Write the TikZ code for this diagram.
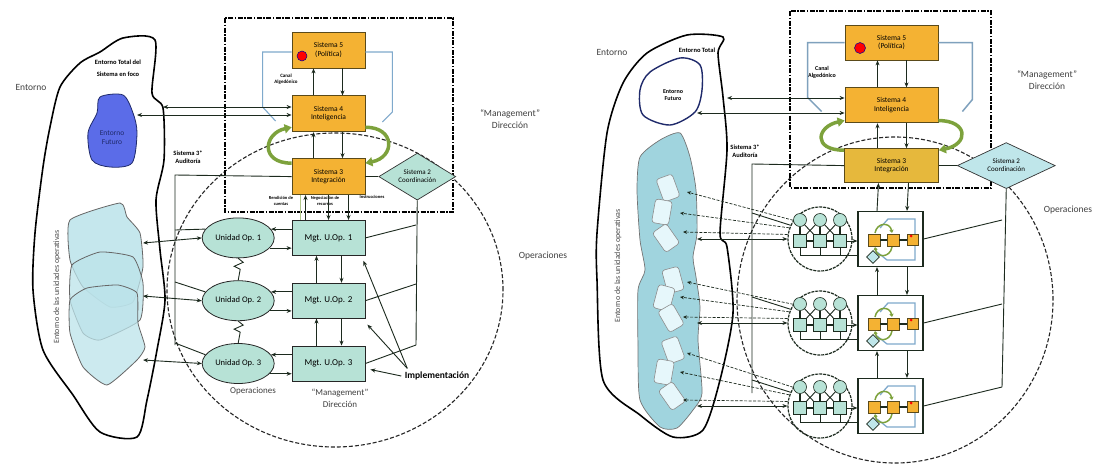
\documentclass[tikz,border=0pt]{standalone}
\usepackage{fontspec}
\setmainfont{Carlito}
\usetikzlibrary{arrows.meta,positioning,shapes.geometric,calc}
\definecolor{SysOrange}{HTML}{F4B233}
\definecolor{SysOrangeDim}{HTML}{E6B83C}
\definecolor{BoxEdge}{HTML}{5A4A1A}
\definecolor{MintFill}{HTML}{B7E2D6}
\definecolor{CoordFill}{HTML}{BFE6EA}
\definecolor{FutureBlue}{HTML}{5B6CE8}
\definecolor{FutureEdge}{HTML}{1F2A6B}
\definecolor{EnvBlue}{HTML}{BCE3EA}
\definecolor{EnvBlueDeep}{HTML}{A0D4DE}
\definecolor{EnvPale}{HTML}{E6F7FB}
\definecolor{AlgBlue}{HTML}{7FA9CC}
\definecolor{CycGreen}{HTML}{7DA23C}
\definecolor{LineDark}{HTML}{1C2A1E}

\begin{document}
\begin{tikzpicture}[x=1pt,y=-1pt,
node distance=27pt and 17pt,
sysbox/.style={draw=BoxEdge,fill=SysOrange,line width=0.8pt,align=center,minimum width=73pt,minimum height=36pt,inner sep=1pt,font=\fontsize{7.5}{8.5}\selectfont},
mgtbox/.style={draw=black!85,fill=MintFill,line width=0.8pt,minimum width=73pt,minimum height=35pt,font=\fontsize{9}{10}\selectfont},
opunit/.style={ellipse,draw=black!85,fill=MintFill,line width=0.8pt,minimum width=72pt,minimum height=40pt,inner sep=0pt,font=\fontsize{8.5}{9}\selectfont},
coordbox/.style={diamond,aspect=1.65,draw=black!80,fill=MintFill,line width=0.7pt,inner sep=0pt,minimum width=77pt,minimum height=47pt,align=center,font=\fontsize{7}{8}\selectfont},
boldlbl/.style={font=\bfseries\fontsize{6}{7}\selectfont,align=center},
tinylbl/.style={font=\bfseries\fontsize{4.5}{5.5}\selectfont,align=center},
plainlbl/.style={font=\fontsize{9.5}{12}\selectfont,align=center,text=black!75},
arr/.style={-{Stealth[length=5pt,width=4pt]},line width=0.9pt,LineDark},
dblarr/.style={{Stealth[length=5pt,width=4pt]}-{Stealth[length=5pt,width=4pt]},line width=0.9pt,LineDark},
dasharr/.style={-{Stealth[length=4pt,width=3.5pt]},line width=0.7pt,LineDark,dash pattern=on 3pt off 1.5pt},
link/.style={line width=0.9pt,LineDark},
minilink/.style={line width=1.6pt,LineDark},
algline/.style={line width=1.1pt,AlgBlue},
cyc/.style={-{Triangle[length=7pt,width=9pt]},line width=3.5pt,CycGreen},
minicyc/.style={-{Triangle[length=3pt,width=4pt]},line width=1.5pt,CycGreen},
envline/.style={line width=1.6pt,black,line join=round},
mgmtframe/.style={line width=1.2pt,black,dash pattern=on 5pt off 1.5pt on 1.5pt off 1.5pt},
opring/.style={line width=1.1pt,black!85,dash pattern=on 4pt off 2pt},
unitring/.style={circle,draw=LineDark,line width=1.2pt,dash pattern=on 3pt off 1pt,minimum size=64pt,inner sep=0pt},
minicirc/.style={circle,draw=LineDark,fill=MintFill,line width=0.6pt,minimum size=13pt,inner sep=0pt},
minisq/.style={draw=LineDark,fill=MintFill,line width=0.6pt,minimum size=13pt,inner sep=0pt},
minisys/.style={draw=BoxEdge,fill=SysOrange,line width=0.6pt,minimum size=12pt,inner sep=0pt},
minicoord/.style={diamond,draw=LineDark,fill=CoordFill,line width=0.6pt,minimum size=13pt,inner sep=0pt},
unitframe/.style={draw=LineDark,fill=white,line width=1.1pt,minimum width=65pt,minimum height=55pt},
piece/.style={draw=black!45,fill=EnvPale,rounded corners=3pt,line width=0.6pt,minimum width=17pt,minimum height=24pt},
reddot/.style={circle,fill=red,draw=blue!60!black,line width=0.5pt,minimum size=10pt,inner sep=0pt}
]
\fill[white] (0,0) rectangle (1099,466);
\useasboundingbox (0,0) rectangle (1099,466);

% ---------- left model ----------
\draw[envline] plot[smooth cycle,tension=0.45] coordinates {(123,38) (155,40) (152,93) (163,108) (164,160) (156,200) (160,250) (165,300) (157,350) (147,400) (137,437) (100,432) (73,395) (43,350) (33,290) (35,233) (43,167) (50,127) (60,87) (80,63) (100,52)};
\draw[FutureEdge,fill=FutureBlue,line width=0.8pt] plot[smooth cycle,tension=0.5] coordinates {(100,97) (123,95) (133,113) (137,133) (132,163) (110,167) (92,160) (88,133) (97,113)};
\draw[black!60,fill=EnvBlue,fill opacity=0.85,line width=0.8pt] plot[smooth cycle,tension=0.3] coordinates {(70,220) (120,203) (127,217) (140,233) (143,267) (133,302) (110,307) (83,287) (70,260)};
\draw[black!60,fill=EnvBlue,fill opacity=0.75,line width=0.8pt] plot[smooth cycle,tension=0.3] coordinates {(72,265) (100,252) (133,257) (143,283) (140,320) (100,340) (83,333) (70,300)};
\draw[black!60,fill=EnvBlue,fill opacity=0.75,line width=0.8pt] plot[smooth cycle,tension=0.3] coordinates {(70,300) (87,288) (118,285) (137,293) (138,323) (145,347) (137,360) (107,385) (83,367) (70,333)};
\draw[opring] (335,290) ellipse [x radius=168pt,y radius=157pt];
\draw[mgmtframe] (225,18) rectangle (453,212);

\node[plainlbl] (env1) at (31,87) {Entorno};
\node[boldlbl,font=\bfseries\fontsize{6.5}{12}\selectfont] (tot1) at (118,68) {Entorno Total del\\Sistema en foco};
\node[font=\fontsize{7.5}{9}\selectfont,align=center,text=FutureEdge] (fut1) at (112,138) {Entorno\\Futuro};
\node[font=\fontsize{8}{9}\selectfont,text=black!70,rotate=90] (uo1) at (57,287) {Entorno de las unidades operativas};

\node[sysbox] (s5) at (328.5,50) {Sistema 5\\(Política)};
\node[sysbox,below=of s5] (s4) {Sistema 4\\Inteligencia};
\node[sysbox,below=26pt of s4] (s3) {Sistema 3\\Integración};
\node[coordbox,right=13pt of s3] (s2) {Sistema 2\\Coordinación};
\node[reddot] (pd1) at (302,56) {};
\node[mgtbox,below=25pt of s3] (mg1) {Mgt. U.Op. 1};
\node[mgtbox,below=of mg1] (mg2) {Mgt. U.Op. 2};
\node[mgtbox,below=of mg2] (mg3) {Mgt. U.Op. 3};
\node[opunit,left=of mg1] (op1) {Unidad Op. 1};
\node[opunit,left=of mg2] (op2) {Unidad Op. 2};
\node[opunit,left=of mg3] (op3) {Unidad Op. 3};

\node[tinylbl,font=\bfseries\fontsize{5}{6.5}\selectfont] (alg1) at (286,79) {Canal\\Algedónico};
\node[boldlbl,font=\bfseries\fontsize{6.5}{8}\selectfont] (aud1) at (188,157) {Sistema 3*\\Auditoría};
\node[tinylbl] (rc1) at (281,201) {Rendición de\\cuentas};
\node[tinylbl] (nr1) at (325,201) {Negociación de\\recursos};
\node[tinylbl] (in1) at (372,197) {Instrucciones};
\node[plainlbl] (mgd1) at (510,119) {“Management”\\Dirección};
\node[plainlbl] (ops1) at (543,256) {Operaciones};
\node[plainlbl,font=\fontsize{9}{12}\selectfont] (ops1b) at (253,391) {Operaciones};
\node[plainlbl,font=\fontsize{9}{12}\selectfont] (mgd1b) at (340,398) {“Management”\\Dirección};
\node[font=\bfseries\fontsize{9.5}{10}\selectfont] (impl) at (437,376) {Implementación};

% channels of system 5 to 3
\draw[algline] ([yshift=-2pt]s5.west) -- ++(-29,0) -- ++(0,55) -- ++(13,14);
\draw[algline] ([yshift=-2pt]s5.east) -- ++(27,0) -- ++(0,60) -- ++(-10,10);
\draw[arr] ([xshift=-15pt]s4.north) -- ([xshift=-15pt]s5.south);
\draw[arr] ([xshift=14pt]s5.south) -- ([xshift=14pt]s4.north);
\draw[arr] ([xshift=-15pt]s3.north) -- ([xshift=-15pt]s4.south);
\draw[arr] ([xshift=14pt]s4.south) -- ([xshift=14pt]s3.north);
\draw[cyc] (s3.160) .. controls +(-32,0) and +(-28,6) .. (s4.200);
\draw[cyc] (s4.340) .. controls +(30,0) and +(30,-6) .. (s3.20);
\draw[link] (s3.east) -- (s2.west);
\draw[CycGreen!60,line width=0.8pt] ([xshift=-28pt]s3.south) -- ([xshift=-28pt]mg1.north);
\draw[arr] ([xshift=-23pt]mg1.north) -- ([xshift=-23pt]s3.south);
\draw[arr] (s3.south) -- (mg1.north);
\draw[arr] ([xshift=20pt]s3.south) -- ([xshift=20pt]mg1.north);

% environment and auditing
\coordinate (et1) at (163,107);
\coordinate (ef1) at (137,115);
\draw[dblarr] (et1) -- (et1 -| s4.west);
\draw[dblarr] (ef1) -- (ef1 -| s4.west);
\coordinate (ab0) at (175,175);
\coordinate (ab4) at (175,345);
\draw[link] (s3.west) -- (ab0) -- (ab4);
\coordinate (ab1) at (175,230);
\coordinate (ab2) at (175,282);
\coordinate (ab3) at (175,343);
\coordinate (cj1) at (416,225);
\coordinate (cj2) at (416,284);
\coordinate (cj3) at (416,345);
\draw[link] (s2.south) -- (cj3);
\foreach \i/\ey in {1/243,2/296,3/360}{
  \coordinate (ue\i) at (143,\ey);
  \draw[dblarr] (op\i.west) -- (ue\i);
  \draw[link] (ab\i) -- (op\i.165);
  \draw[arr] (mg\i.west |- op\i.15) -- (op\i.15);
  \draw[arr] (op\i.-18) -- (op\i.-18 -| mg\i.west);
  \draw[link] (mg\i.east) -- (cj\i);
}
\draw[arr] ([xshift=-12pt]mg2.north) -- ([xshift=-12pt]mg1.south);
\draw[arr] ([xshift=13pt]mg1.south) -- ([xshift=13pt]mg2.north);
\draw[arr] ([xshift=-12pt]mg3.north) -- ([xshift=-12pt]mg2.south);
\draw[arr] ([xshift=13pt]mg2.south) -- ([xshift=13pt]mg3.north);
\draw[link] (op1.south) -- ++(5,4) -- ++(-9,4) -- ++(6,3) -- (op2.north);
\draw[link] (op2.south) -- ++(5,4) -- ++(-9,4) -- ++(6,3) -- (op3.north);
\draw[arr] ([xshift=6pt]impl.north west) -- ([xshift=-2pt,yshift=-5pt]mg1.south east);
\draw[arr] ([xshift=6pt]impl.north west) -- ([xshift=2pt,yshift=-6pt]mg2.south east);
\draw[arr] (impl.west) -- ([xshift=5pt,yshift=-6pt]mg3.east);

% ---------- right model ----------
\draw[envline] plot[smooth cycle,tension=0.45] coordinates {(687,35) (723,37) (718,53) (723,97) (727,150) (720,233) (727,247) (733,313) (720,380) (703,430) (673,437) (640,415) (603,380) (597,280) (597,233) (607,133) (623,83) (647,53)};
\draw[FutureEdge,fill=white,line width=1.4pt] plot[smooth cycle,tension=0.5] coordinates {(680,58) (700,65) (702,90) (695,112) (670,125) (643,115) (640,90) (650,72)};
\draw[black!55,fill=EnvBlueDeep,line width=0.7pt] plot[smooth cycle,tension=0.4] coordinates {(680,133) (690,157) (696,190) (697,233) (693,257) (696,277) (700,307) (698,340) (702,393) (693,410) (677,428) (660,427) (640,400) (638,347) (638,290) (645,270) (640,240) (637,190) (640,157) (660,140)};
\foreach \k/\px/\py/\rt in {1/668/188/20,2/662/212/-10,3/666/238/35,4/673/280/15,5/664/298/-15,6/671/318/30,7/673/350/20,8/664/372/-10,9/672/396/35}{
  \node[piece,rotate=\rt] (pc\k) at (\px,\py) {};
}
\draw[opring] (895,300) ellipse [x radius=158pt,y radius=163pt];
\draw[mgmtframe] (790,11) rectangle (991,188);

\node[plainlbl] (env2) at (612,52) {Entorno};
\node[boldlbl,font=\bfseries\fontsize{6.5}{7}\selectfont] (tot2) at (697,50) {Entorno Total};
\node[boldlbl] (fut2) at (673,95) {Entorno\\Futuro};
\node[font=\fontsize{8}{9}\selectfont,text=black!70,rotate=90] (uo2) at (618,266) {Entorno de las unidades operativas};

\node[sysbox,minimum width=93pt,minimum height=35pt] (s5r) at (891.5,42.5) {Sistema 5\\(Política)};
\node[sysbox,minimum width=93pt,minimum height=35pt,below=of s5r] (s4r) {Sistema 4\\Inteligencia};
\node[sysbox,minimum width=94pt,minimum height=34pt,fill=SysOrangeDim,below=25pt of s4r] (s3r) {Sistema 3\\Integración};
\node[coordbox,fill=CoordFill,minimum width=98pt,minimum height=46pt,right=18pt of s3r] (s2r) {Sistema 2\\Coordinación};
\node[reddot,minimum size=11pt] (pd2) at (860,48) {};
\node[boldlbl] (alg2) at (822,72) {Canal\\Algedónico};
\node[boldlbl,font=\bfseries\fontsize{6.5}{8}\selectfont] (aud2) at (745,151) {Sistema 3*\\Auditoría};
\node[plainlbl] (mgd2) at (1047,80) {“Management”\\Dirección};
\node[plainlbl] (ops2) at (1068,210) {Operaciones};

\draw[algline,line width=1.5pt,AlgBlue!80!gray] (s5r.west) -- ++(-37,0) -- ++(0,55) -- ++(14,14);
\draw[algline,line width=1.5pt,AlgBlue!80!gray] (s5r.east) -- ++(34,0) -- ++(0,57) -- ++(-10,12);
\draw[arr] ([xshift=-14pt]s4r.north) -- ([xshift=-14pt]s5r.south);
\draw[arr] ([xshift=15pt]s5r.south) -- ([xshift=15pt]s4r.north);
\draw[arr] ([xshift=-14pt]s3r.north) -- ([xshift=-14pt]s4r.south);
\draw[arr] ([xshift=15pt]s4r.south) -- ([xshift=15pt]s3r.north);
\draw[cyc] (s3r.162) .. controls +(-32,0) and +(-28,6) .. (s4r.198);
\draw[cyc] (s4r.342) .. controls +(30,0) and +(30,-6) .. (s3r.18);
\draw[link] (s3r.east) -- (s2r.west);

\coordinate (et2) at (727,98);
\coordinate (ef2) at (697,113);
\draw[dblarr] (et2) -- (et2 -| s4r.west);
\draw[dblarr] (ef2) -- (ef2 -| s4r.west);
\coordinate (ar0) at (752,164);
\coordinate (ar4) at (752,393);
\draw[link] (s3r.west) -- (ar0) -- (ar4);
\coordinate (cr0) at (1002,387);
\draw[link] (s2r.south) -- (cr0);

\foreach \i/\y/\ta/\tb/\tc in {1/239/192/213/232,2/323/282/297/317,3/406/353/372/400}{
  % operational unit
  \node[unitring] (uc\i) at (820,\y) {};
  \node[minicirc] (ca\i) at (800,\y-19) {};
  \node[minicirc] (cb\i) at (820,\y-19) {};
  \node[minicirc] (cc\i) at (840,\y-19) {};
  \node[minisq] (qa\i) at (800,\y+2) {};
  \node[minisq] (qb\i) at (820,\y+2) {};
  \node[minisq] (qc\i) at (840,\y+2) {};
  \draw[minilink] (ca\i) -- (qa\i) (cb\i) -- (qb\i) (cc\i) -- (qc\i);
  \draw[link] (ca\i) -- (qb\i) (cb\i) -- (qa\i) (cb\i) -- (qc\i) (cc\i) -- (qb\i);
  \draw[minilink] (qa\i) -- (qb\i) -- (qc\i);
  \coordinate (ub\i) at (858,\y+16);
  \draw[link] (qa\i.south) |- (ub\i);
  \draw[link] (qb\i.south) -- (qb\i.south |- ub\i);
  \draw[link] (qc\i.south) -- (qc\i.south |- ub\i);
  % its management
  \node[unitframe] (mb\i) at (890.5,\y) {};
  \draw[AlgBlue,line width=1.3pt] (880,\y-11) -- (888,\y-20) -- (915,\y-20) -- (915,\y+21) -- (887,\y+21) -- (877,\y+13);
  \draw[minicyc] (875,\y-6) .. controls (877,\y-17) and (890,\y-17) .. (892,\y-6);
  \draw[minicyc] (892,\y+8) .. controls (890,\y+19) and (877,\y+19) .. (875,\y+8);
  \node[minisys] (sa\i) at (874,\y+1) {};
  \node[minisys] (sb\i) at (893,\y+1) {};
  \node[minisys,minimum size=11pt] (sc\i) at (913,\y+1) {};
  \node[circle,fill=red,inner sep=0pt,minimum size=3pt] (rd\i) at (911,\y-3) {};
  \node[minicoord] (sd\i) at (873,\y+18) {};
  \draw[minilink] (sa\i) -- (sb\i) -- (sc\i);
  \draw[arr] (qc\i) -- (qc\i -| mb\i.west);
  \coordinate (cr\i) at (1002,\y-19);
  \draw[link] (mb\i.east) -- (cr\i);
  % links to the environment
  \coordinate (au\i) at (752,\y-26);
  \draw[link] (au\i) -- (uc\i.155);
  \coordinate (eta\i) at (687,\ta);
  \coordinate (etb\i) at (680,\tb);
  \coordinate (etc\i) at (683,\tc);
  \coordinate (ets\i) at (697,\y);
  \draw[dasharr] (uc\i.145) -- (eta\i);
  \draw[dasharr] (uc\i.160) -- (etb\i);
  \draw[dasharr] (uc\i.172) -- (etc\i);
  \draw[dblarr] (uc\i.west) -- (ets\i);
}
\draw[arr] ([xshift=-13.5pt]mb1.north) -- ([xshift=-13pt]s3r.south);
\draw[arr] ([xshift=17pt]s3r.south) -- ([xshift=16.5pt]mb1.north);
\draw[arr] ([xshift=-13.5pt]mb2.north) -- ([xshift=-13.5pt]mb1.south);
\draw[arr] ([xshift=16.5pt]mb1.south) -- ([xshift=16.5pt]mb2.north);
\draw[arr] ([xshift=-13.5pt]mb3.north) -- ([xshift=-13.5pt]mb2.south);
\draw[arr] ([xshift=16.5pt]mb2.south) -- ([xshift=16.5pt]mb3.north);
\end{tikzpicture}
\end{document}
